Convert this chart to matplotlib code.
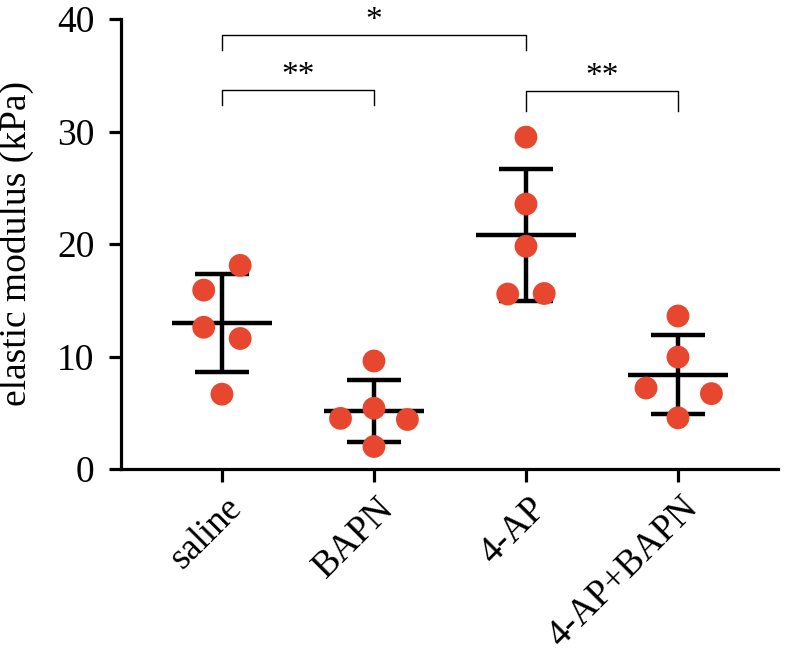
import matplotlib
matplotlib.use('Agg')
import matplotlib.pyplot as plt
import matplotlib.transforms as mtransforms
import numpy as np

plt.rcParams['font.family'] = ['Liberation Serif', 'DejaVu Serif']

groups = ['saline', 'BAPN', '4-AP', '4-AP+BAPN']
values = [
    [18.1, 15.9, 12.6, 11.6, 6.65],
    [9.6, 4.5, 5.4, 4.4, 2.0],
    [29.5, 23.55, 19.8, 15.55, 15.6],
    [13.6, 9.95, 7.2, 6.7, 4.55],
]
# horizontal jitter of each dot, in category units
offsets = [
    [0.12, -0.12, -0.12, 0.12, 0.0],
    [0.0, -0.22, 0.0, 0.22, 0.0],
    [0.0, 0.0, 0.0, -0.12, 0.12],
    [0.0, 0.0, -0.21, 0.22, 0.0],
]
# significance brackets: (left group, right group, bar height, left drop, right drop, label)
brackets = [
    (0, 2, 38.6, 37.2, 37.2, '*'),
    (0, 1, 33.7, 32.4, 32.4, '**'),
    (2, 3, 33.6, 31.8, 31.8, '**'),
]

dot_color = '#E8472F'

fig = plt.figure(figsize=(7.92, 6.55), dpi=100)
ax = fig.add_axes([121 / 792, 1 - 469 / 655, 657 / 792, 450 / 655])

x = np.arange(len(groups))
means = np.array([np.mean(v) for v in values])
sds = np.array([np.std(v, ddof=1) for v in values])

# mean line
ax.hlines(means, x - 0.33, x + 0.33, color='black', lw=3.2, zorder=2)
# SD bars
ax.errorbar(x, means, yerr=sds, fmt='none', ecolor='black', elinewidth=3.2,
            capsize=19.5, capthick=3.2, zorder=2)

for i, (vals, offs) in enumerate(zip(values, offsets)):
    ax.scatter(i + np.array(offs), vals, s=270, color=dot_color, edgecolors='none', zorder=3)

for a, b, h, dl, dr, lab in brackets:
    ax.plot([a, a, b, b], [dl, h, h, dr], color='black', lw=1.0, clip_on=False, zorder=1)
    ax.text((a + b) / 2, h + 0.5, lab, ha='center', va='baseline', fontsize=24)

ax.set_xlim(-0.664, 3.658)
ax.set_ylim(0, 40)
ax.set_yticks([0, 10, 20, 30, 40])
ax.set_xticks(x)
ax.set_xticklabels([])

# rotated category labels, ending a little right of each tick
lbl_trans = ax.get_xaxis_transform() + mtransforms.ScaledTranslation(0.15, -0.34, fig.dpi_scale_trans)
for i, g in enumerate(groups):
    ax.text(i, 0, g, transform=lbl_trans, rotation=45, ha='right', va='center',
            rotation_mode='anchor', fontsize=26.5, clip_on=False)

ax.set_ylabel('elastic modulus (kPa)', fontsize=27)
ax.yaxis.set_label_coords(-0.133, 0.5)

for s in ['top', 'right']:
    ax.spines[s].set_visible(False)
for s in ['left', 'bottom']:
    ax.spines[s].set_linewidth(2.3)
ax.tick_params(axis='both', width=2.3, length=9, labelsize=27, pad=10)

fig.savefig('out.png', dpi=100)
